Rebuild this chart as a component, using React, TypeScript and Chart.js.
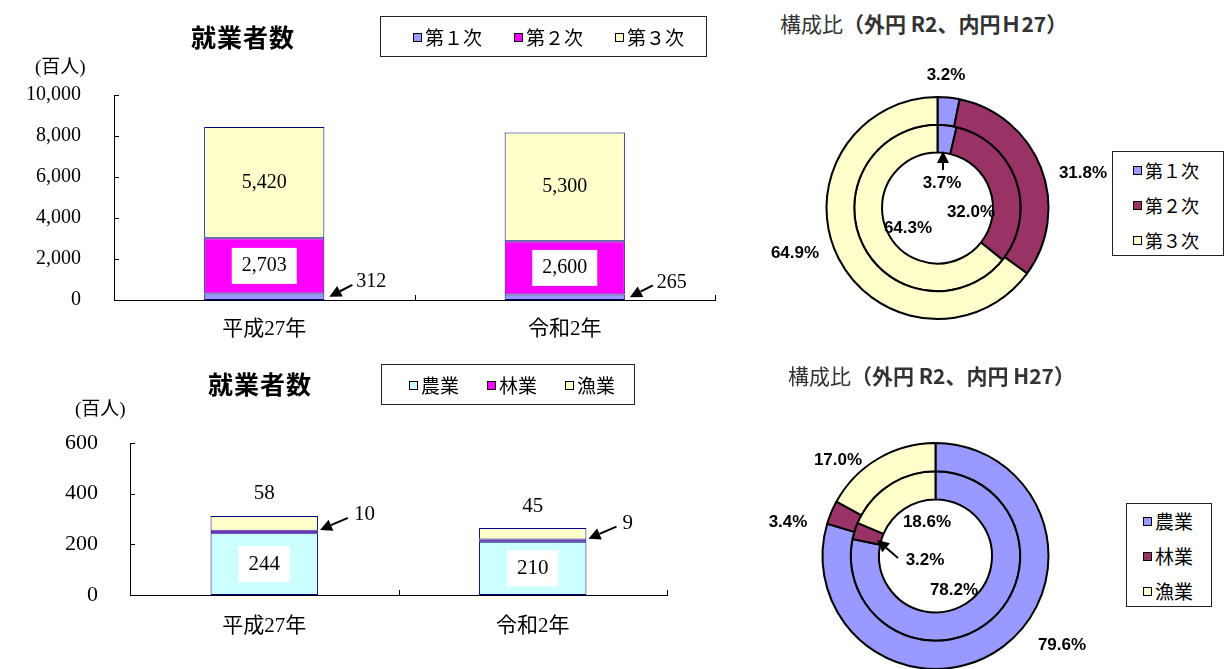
import React, { useEffect, useRef } from "react";
import { Chart, registerables } from "chart.js";

Chart.register(...registerables);

// ---------------- data ----------------
const years = ["平成27年", "令和2年"];

const sectorNames = ["第１次", "第２次", "第３次"];
const sectorPrimary = [312, 265];
const sectorSecondary = [2703, 2600];
const sectorTertiary = [5420, 5300];
const sectorAxisTicks = [0, 2000, 4000, 6000, 8000, 10000];

const industryNames = ["農業", "林業", "漁業"];
const industryFarming = [244, 210];
const industryForestry = [10, 9];
const industryFishing = [58, 45];
const industryAxisTicks = [0, 200, 400, 600];

const sectorShareOuterR2 = [3.2, 31.8, 64.9];
const sectorShareInnerH27 = [3.7, 32.0, 64.3];
const industryShareOuterR2 = [79.6, 3.4, 17.0];
const industryShareInnerH27 = [78.2, 3.2, 18.6];

const barColorsSector = ["#9999FF", "#FF00FF", "#FFFFCC"];
const barColorsIndustry = ["#CCFFFF", "#FF00FF", "#FFFFCC"];
const pieColorsSector = ["#9999FF", "#993366", "#FFFFCC"];
const pieColorsIndustry = ["#9999FF", "#993366", "#FFFFCC"];

// ---------------- styling helpers ----------------
const SERIF = "'Liberation Serif', 'DejaVu Serif', 'Noto Sans CJK JP', serif";
const JP = "'Noto Sans CJK JP', sans-serif";
const ARIAL = "'Liberation Sans', Arial, sans-serif";

function fmt(v: number) {
  return v.toLocaleString("en-US");
}

function drawArrow(ctx: CanvasRenderingContext2D, x1: number, y1: number, x2: number, y2: number) {
  const ang = Math.atan2(y2 - y1, x2 - x1);
  const head = 12;
  const half = 6;
  const bx = x2 - head * Math.cos(ang);
  const by = y2 - head * Math.sin(ang);
  ctx.save();
  ctx.strokeStyle = "#000";
  ctx.fillStyle = "#000";
  ctx.lineWidth = 2;
  ctx.beginPath();
  ctx.moveTo(x1, y1);
  ctx.lineTo(bx, by);
  ctx.stroke();
  ctx.beginPath();
  ctx.moveTo(x2, y2);
  ctx.lineTo(bx + half * Math.sin(ang), by - half * Math.cos(ang));
  ctx.lineTo(bx - half * Math.sin(ang), by + half * Math.cos(ang));
  ctx.closePath();
  ctx.fill();
  ctx.restore();
}

type ArrowCfg = { tip: [number, number]; tail: [number, number]; text: [number, number] };
type BarCfg = {
  series: number[][];
  names: string[];
  colors: string[];
  ticks: number[];
  padTop: number;
  padRight: number;
  yWidth: number;
  xHeight: number;
  yPad: number;
  xPad: number;
  tickSize: number;
  catSize: number;
  valSize: number;
  notes: { ds: number; mode: string }[];
  arrow: ArrowCfg;
  aboveGap: number;
};

function makeBar(canvas: HTMLCanvasElement, c: BarCfg) {
  const notesPlugin = {
    id: "barNotes",
    afterDraw(chart: any) {
      const ctx = chart.ctx as CanvasRenderingContext2D;
      const { left, right, bottom } = chart.chartArea;
      const xs = chart.scales.x;
      const ys = chart.scales.y;
      ctx.save();
      ctx.strokeStyle = "#000";
      ctx.lineWidth = 1;
      ys.ticks.forEach((t: any) => {
        const py = Math.round(ys.getPixelForValue(t.value)) + 0.5;
        ctx.beginPath();
        ctx.moveTo(left, py);
        ctx.lineTo(left + 5, py);
        ctx.stroke();
      });
      const n = chart.data.labels.length;
      const cw = (right - left) / n;
      for (let i = 0; i < n; i++) {
        const px = Math.round(xs.getPixelForTick(i) + cw / 2) + 0.5;
        ctx.beginPath();
        ctx.moveTo(px, bottom);
        ctx.lineTo(px, bottom - 5);
        ctx.stroke();
      }
      ctx.font = `${c.valSize}px ${SERIF}`;
      ctx.textBaseline = "middle";
      ctx.fillStyle = "#000";
      c.notes.forEach((nt) => {
        const meta = chart.getDatasetMeta(nt.ds);
        meta.data.forEach((el: any, i: number) => {
          const { x, y, base, width } = el.getProps(["x", "y", "base", "width"], true);
          const v = chart.data.datasets[nt.ds].data[i] as number;
          const txt = fmt(v);
          const mid = (y + base) / 2;
          const r = x + width / 2;
          if (nt.mode === "center") {
            ctx.textAlign = "center";
            ctx.fillStyle = "#000";
            ctx.fillText(txt, x, mid);
          } else if (nt.mode === "box") {
            const w = ctx.measureText(txt).width + 20;
            const h = 36;
            ctx.fillStyle = "#fff";
            ctx.fillRect(x - w / 2, mid - h / 2, w, h);
            ctx.fillStyle = "#000";
            ctx.textAlign = "center";
            ctx.fillText(txt, x, mid);
          } else if (nt.mode === "above") {
            ctx.textAlign = "center";
            ctx.fillStyle = "#000";
            ctx.fillText(txt, x, y - c.aboveGap);
          } else if (nt.mode === "arrow") {
            const a = c.arrow;
            drawArrow(ctx, r + a.tail[0], mid + a.tail[1], r + a.tip[0], mid + a.tip[1]);
            ctx.textAlign = "left";
            ctx.fillStyle = "#000";
            ctx.fillText(txt, r + a.text[0], mid + a.text[1]);
          }
        });
      });
      ctx.restore();
    },
  };

  return new Chart(canvas, {
    type: "bar",
    data: {
      labels: years,
      datasets: c.series.map((s, i) => ({
        label: c.names[i],
        data: s,
        backgroundColor: c.colors[i],
        borderColor: "#000080",
        borderWidth: 1,
        borderSkipped: false,
        barPercentage: 0.4,
        categoryPercentage: 1,
      })),
    },
    options: {
      responsive: false,
      animation: false,
      layout: { padding: { top: c.padTop, right: c.padRight, left: 0, bottom: 0 } },
      plugins: { legend: { display: false }, tooltip: { enabled: false }, title: { display: false } },
      scales: {
        x: {
          stacked: true,
          offset: true,
          grid: { display: false, drawTicks: false },
          border: { display: true, color: "#000", width: 1 },
          ticks: { font: { family: SERIF, size: c.catSize }, color: "#000", padding: c.xPad },
          afterFit: (s: any) => {
            s.height = c.xHeight;
          },
        },
        y: {
          stacked: true,
          min: c.ticks[0],
          max: c.ticks[c.ticks.length - 1],
          grid: { display: false, drawTicks: false },
          border: { display: true, color: "#000", width: 1 },
          ticks: {
            stepSize: c.ticks[1] - c.ticks[0],
            font: { family: SERIF, size: c.tickSize },
            color: "#000",
            padding: c.yPad,
            callback: (v: any) => fmt(Number(v)),
          },
          afterFit: (s: any) => {
            s.width = c.yWidth;
          },
        },
      },
    } as any,
    plugins: [notesPlugin],
  });
}

type PieNote = { ds: number; idx: number; at: [number, number]; arrow?: [number, number, number, number] };

function makeDonut(
  canvas: HTMLCanvasElement,
  names: string[],
  outer: number[],
  inner: number[],
  colors: string[],
  radius: number,
  notes: PieNote[]
) {
  const plugin = {
    id: "pieNotes",
    afterDraw(chart: any) {
      const ctx = chart.ctx as CanvasRenderingContext2D;
      const arc = chart.getDatasetMeta(0).data[0];
      const cx = arc.x;
      const cy = arc.y;
      ctx.save();
      ctx.font = `bold 17px ${ARIAL}`;
      ctx.fillStyle = "#000";
      ctx.textAlign = "center";
      ctx.textBaseline = "middle";
      notes.forEach((n) => {
        const v = chart.data.datasets[n.ds].data[n.idx] as number;
        ctx.fillText(v.toFixed(1) + "%", cx + n.at[0], cy + n.at[1]);
        if (n.arrow) drawArrow(ctx, cx + n.arrow[0], cy + n.arrow[1], cx + n.arrow[2], cy + n.arrow[3]);
      });
      ctx.restore();
    },
  };
  return new Chart(canvas, {
    type: "doughnut",
    data: {
      labels: names,
      datasets: [
        { data: outer, backgroundColor: colors, borderColor: "#000", borderWidth: 2 },
        { data: inner, backgroundColor: colors, borderColor: "#000", borderWidth: 2 },
      ],
    },
    options: {
      responsive: false,
      animation: false,
      radius: radius,
      cutout: "50%",
      layout: { padding: 0 },
      plugins: { legend: { display: false }, tooltip: { enabled: false } },
    } as any,
    plugins: [plugin],
  });
}

// ---------------- configs ----------------
const topBar: BarCfg = {
  series: [sectorPrimary, sectorSecondary, sectorTertiary],
  names: sectorNames,
  colors: barColorsSector,
  ticks: sectorAxisTicks,
  padTop: 95,
  padRight: 25,
  yWidth: 114,
  xHeight: 50,
  yPad: 33,
  xPad: 17,
  tickSize: 20,
  catSize: 21,
  valSize: 20,
  notes: [
    { ds: 2, mode: "center" },
    { ds: 1, mode: "box" },
    { ds: 0, mode: "arrow" },
  ],
  arrow: { tip: [5, 0], tail: [28, -12], text: [32, -15] },
  aboveGap: 22,
};

const bottomBar: BarCfg = {
  series: [industryFarming, industryForestry, industryFishing],
  names: industryNames,
  colors: barColorsIndustry,
  ticks: industryAxisTicks,
  padTop: 83,
  padRight: 33,
  yWidth: 130,
  xHeight: 55,
  yPad: 32,
  xPad: 19,
  tickSize: 22,
  catSize: 21,
  valSize: 21,
  notes: [
    { ds: 0, mode: "box" },
    { ds: 1, mode: "arrow" },
    { ds: 2, mode: "above" },
  ],
  arrow: { tip: [2, -2], tail: [30, -14], text: [36, -17] },
  aboveGap: 22,
};

const topPieNotes: PieNote[] = [
  { ds: 0, idx: 0, at: [8.5, -133] },
  { ds: 0, idx: 1, at: [145.5, -35] },
  { ds: 0, idx: 2, at: [-142.5, 45] },
  { ds: 1, idx: 0, at: [4.5, -25], arrow: [5.5, -38, 5.5, -57] },
  { ds: 1, idx: 1, at: [33.5, 4] },
  { ds: 1, idx: 2, at: [-29.5, 20] },
];

const bottomPieNotes: PieNote[] = [
  { ds: 0, idx: 0, at: [126.5, 89] },
  { ds: 0, idx: 1, at: [-147.5, -34] },
  { ds: 0, idx: 2, at: [-97.5, -96] },
  { ds: 1, idx: 0, at: [18.5, 34] },
  { ds: 1, idx: 1, at: [-10.5, 4], arrow: [-37.5, 2, -58.5, -16] },
  { ds: 1, idx: 2, at: [-8.5, -34] },
];

// ---------------- html bits ----------------
type LegendProps = {
  left: number;
  top: number;
  width: number;
  height: number;
  names: string[];
  colors: string[];
  vertical: boolean;
  sx: number;
  sy: number;
  step: number;
  size: number;
};

function Legend(p: LegendProps) {
  return (
    <div
      style={{
        position: "absolute",
        left: p.left,
        top: p.top,
        width: p.width,
        height: p.height,
        border: "1px solid #222",
        boxSizing: "border-box",
        background: "#fff",
      }}
    >
      {p.names.map((n, i) => (
        <div
          key={n}
          style={{
            position: "absolute",
            left: p.vertical ? p.sx : p.sx + i * p.step,
            top: (p.vertical ? p.sy + i * p.step : p.sy) - 12,
            height: 24,
            display: "flex",
            alignItems: "center",
            whiteSpace: "nowrap",
            fontFamily: JP,
            fontSize: p.size,
            lineHeight: "24px",
            color: "#000",
          }}
        >
          <span
            style={{
              display: "inline-block",
              width: 9,
              height: 9,
              background: p.colors[i],
              border: "1px solid #000",
              boxSizing: "border-box",
              marginRight: 3,
            }}
          />
          {n}
        </div>
      ))}
    </div>
  );
}

function Txt(props: { x: number; y: number; text: React.ReactNode; style: React.CSSProperties; center?: boolean }) {
  return (
    <div
      style={{
        position: "absolute",
        left: props.x,
        top: props.y,
        transform: props.center ? "translate(-50%, -50%)" : "translate(0, -50%)",
        whiteSpace: "nowrap",
        lineHeight: 1,
        ...props.style,
      }}
    >
      {props.text}
    </div>
  );
}

export default function App() {
  const r1 = useRef<HTMLCanvasElement>(null);
  const r2 = useRef<HTMLCanvasElement>(null);
  const r3 = useRef<HTMLCanvasElement>(null);
  const r4 = useRef<HTMLCanvasElement>(null);

  useEffect(() => {
    const charts = [
      makeBar(r1.current!, topBar),
      makeBar(r2.current!, bottomBar),
      makeDonut(r3.current!, sectorNames, sectorShareOuterR2, sectorShareInnerH27, pieColorsSector, 111, topPieNotes),
      makeDonut(r4.current!, industryNames, industryShareOuterR2, industryShareInnerH27, pieColorsIndustry, 113, bottomPieNotes),
    ];
    return () => charts.forEach((c) => c.destroy());
  }, []);

  const titleBold: React.CSSProperties = { fontFamily: JP, fontWeight: 700, fontSize: 25, letterSpacing: 1, color: "#000" };
  const unit: React.CSSProperties = { fontFamily: SERIF, fontSize: 19, color: "#000" };
  const pieTitle: React.CSSProperties = { fontFamily: JP, fontSize: 21, color: "#333" };

  return (
    <div
      style={{
        position: "absolute",
        left: 0,
        top: 0,
        width: 1230,
        height: 669,
        overflow: "hidden",
        background: "#fff",
      }}
    >
      <canvas ref={r1} width={740} height={350} style={{ position: "absolute", left: 0, top: 0 }} />
      <canvas ref={r2} width={700} height={290} style={{ position: "absolute", left: 0, top: 360 }} />
      <canvas ref={r3} width={345} height={336} style={{ position: "absolute", left: 765, top: 40 }} />
      <canvas ref={r4} width={341} height={352} style={{ position: "absolute", left: 765, top: 380 }} />

      <Txt x={243} y={36} text="就業者数" style={titleBold} center />
      <Txt x={260} y={383} text="就業者数" style={titleBold} center />
      <Txt x={35} y={66} text="(百人)" style={unit} />
      <Txt x={75} y={408} text="(百人)" style={unit} />

      <Txt
        x={780}
        y={23}
        text={
          <>
            構成比<span style={{ fontWeight: 700 }}>（外円 R2、内円Ｈ27）</span>
          </>
        }
        style={pieTitle}
      />
      <Txt
        x={788}
        y={375}
        text={
          <>
            構成比<span style={{ fontWeight: 700 }}>（外円 R2、内円 H27）</span>
          </>
        }
        style={pieTitle}
      />

      <Legend left={380} top={16} width={327} height={41} names={sectorNames} colors={barColorsSector} vertical={false} sx={32} sy={20} step={101} size={19} />
      <Legend left={381} top={364} width={254} height={41} names={industryNames} colors={barColorsIndustry} vertical={false} sx={27} sy={20} step={78} size={19} />
      <Legend left={1112} top={151} width={112} height={105} names={sectorNames} colors={pieColorsSector} vertical={true} sx={20} sy={18} step={35} size={18} />
      <Legend left={1126} top={503} width={86} height={104} names={industryNames} colors={pieColorsIndustry} vertical={true} sx={16} sy={17} step={35} size={19} />
    </div>
  );
}
